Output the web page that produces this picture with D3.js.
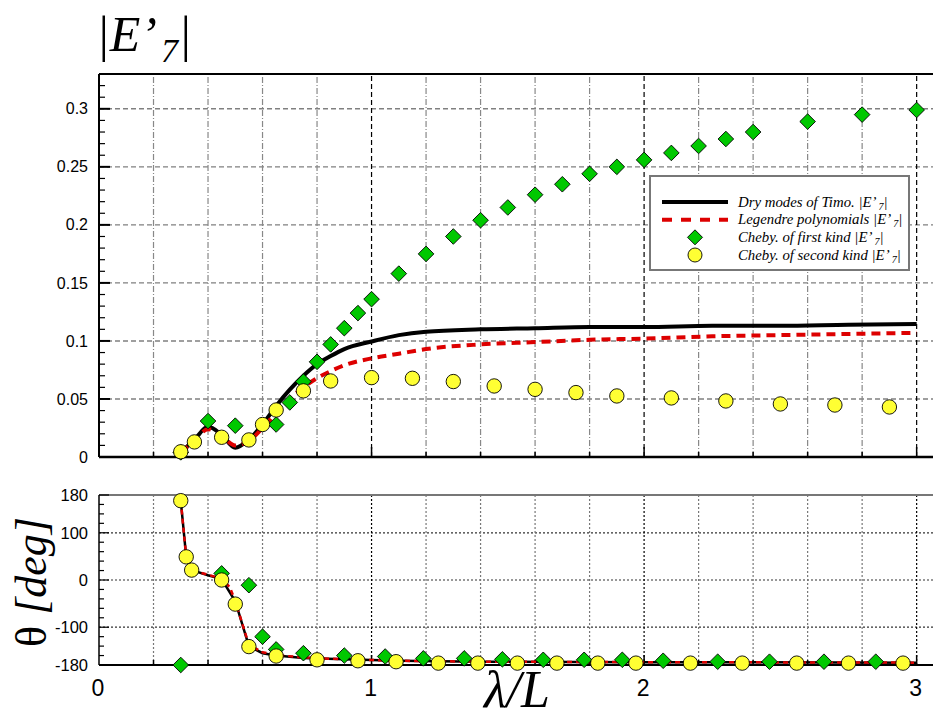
<!DOCTYPE html>
<html>
<head>
<meta charset="utf-8">
<script src="https://cdn.jsdelivr.net/npm/d3@7"></script>
<style>
  html, body { margin: 0; padding: 0; background: #fff; }
  svg { display: block; }
</style>
</head>
<body>
<svg id="chart" width="933" height="720"></svg>
<script>
// ---- amplitude |E'7| versus wavelength ratio ----
const timoLam = [0.30, 0.35, 0.40, 0.45, 0.50, 0.55, 0.60, 0.65, 0.70, 0.75, 0.80, 0.85, 0.90, 1.00, 1.10, 1.20, 1.40, 1.60, 1.80, 2.00, 2.25, 2.50, 2.75, 3.00];
const timoAmp = [0.004, 0.015, 0.026, 0.019, 0.008, 0.015, 0.028, 0.044, 0.058, 0.070, 0.080, 0.087, 0.093, 0.0995, 0.105, 0.108, 0.110, 0.111, 0.112, 0.112, 0.113, 0.113, 0.114, 0.1145];

const legLam = [0.30, 0.35, 0.40, 0.45, 0.50, 0.55, 0.60, 0.65, 0.70, 0.75, 0.80, 0.85, 0.90, 1.00, 1.10, 1.20, 1.40, 1.60, 1.80, 2.00, 2.25, 2.50, 2.75, 3.00];
const legAmp = [0.004, 0.014, 0.024, 0.018, 0.010, 0.014, 0.025, 0.038, 0.050, 0.060, 0.068, 0.074, 0.079, 0.085, 0.089, 0.093, 0.097, 0.099, 0.101, 0.102, 0.104, 0.105, 0.106, 0.107];

const cheb1Lam = [0.30, 0.40, 0.50, 0.65, 0.70, 0.75, 0.80, 0.85, 0.90, 0.95, 1.00, 1.10, 1.20, 1.30, 1.40, 1.50, 1.60, 1.70, 1.80, 1.90, 2.00, 2.10, 2.20, 2.30, 2.40, 2.60, 2.80, 3.00];
const cheb1Amp = [0.004, 0.031, 0.027, 0.028, 0.047, 0.065, 0.082, 0.097, 0.111, 0.124, 0.136, 0.158, 0.175, 0.190, 0.204, 0.215, 0.226, 0.235, 0.244, 0.250, 0.256, 0.262, 0.268, 0.274, 0.280, 0.289, 0.295, 0.299];

const cheb2Lam = [0.30, 0.35, 0.45, 0.55, 0.60, 0.65, 0.75, 0.85, 1.00, 1.15, 1.30, 1.45, 1.60, 1.75, 1.90, 2.10, 2.30, 2.50, 2.70, 2.90];
const cheb2Amp = [0.0045, 0.013, 0.017, 0.0147, 0.028, 0.0405, 0.057, 0.0655, 0.0684, 0.0678, 0.065, 0.0612, 0.0583, 0.0555, 0.0526, 0.0509, 0.0483, 0.0457, 0.0448, 0.0431];

// ---- phase theta [deg] ----
const timoPhLam = [0.30, 0.32, 0.34, 0.40, 0.45, 0.50, 0.55, 0.60, 0.65, 0.75, 0.90, 1.10, 1.40, 2.00, 3.00];
const timoPh = [168, 49, 21, 10, 2, -45, -140, -155, -160, -165, -168, -171, -173, -174, -175];

const legPhLam = [0.30, 0.32, 0.34, 0.40, 0.45, 0.48, 0.50, 0.55, 0.60, 0.65, 0.75, 0.90, 1.10, 1.40, 2.00, 3.00];
const legPh = [168, 49, 21, 11, 3, -15, -45, -137, -153, -159, -164, -168, -171, -173, -174, -175];

const cheb1PhLam = [0.30, 0.45, 0.55, 0.60, 0.65, 0.75, 0.90, 1.05, 1.19, 1.34, 1.48, 1.63, 1.78, 1.92, 2.07, 2.27, 2.46, 2.66, 2.85];
const cheb1Ph = [-180, 14, -11, -120, -147, -155, -160, -162, -166, -166, -168, -169, -169, -169, -171, -173, -173, -173, -173];

const cheb2PhLam = [0.30, 0.32, 0.34, 0.45, 0.50, 0.55, 0.65, 0.80, 0.95, 1.09, 1.245, 1.39, 1.535, 1.68, 1.83, 1.97, 2.17, 2.36, 2.56, 2.75, 2.95];
const cheb2Ph = [168, 49, 21, 0, -51, -141, -161, -169, -171, -173, -176, -176, -176, -176, -176, -176, -176, -176, -176, -176, -176];

// axis ticks
const xTicks = [0, 1, 2, 3];
const xGrid = [0.2, 0.4, 0.6, 0.8, 1.0, 1.2, 1.4, 1.6, 1.8, 2.0, 2.2, 2.4, 2.6, 2.8, 3.0];
const ampTicks = [0, 0.05, 0.1, 0.15, 0.2, 0.25, 0.3];
const ampTickLabels = ["0", "0.05", "0.1", "0.15", "0.2", "0.25", "0.3"];
const phTicks = [-180, -100, 0, 100, 180];
const phGrid = [-100, 0, 100];

const legendItems = [
  { label: "Dry modes of Timo. |E’", kind: "solid" },
  { label: "Legendre polynomials |E’", kind: "dashed" },
  { label: "Cheby. of first kind |E’", kind: "diamond" },
  { label: "Cheby. of second kind |E’", kind: "circle" }
];

// ---- drawing ----
const svg = d3.select("#chart");
const left = 99, right = 933;
const x = d3.scaleLinear().domain([0, 3.06]).range([left, right]);
const yA = d3.scaleLinear().domain([0, 0.33]).range([457, 74]);
const yP = d3.scaleLinear().domain([-180, 180]).range([665, 495]);

const sans = "'Liberation Sans', Arial, sans-serif";
const serif = "'Liberation Serif', 'Times New Roman', serif";
const green = "#00c800", yellow = "#ffff33", red = "#dd0000";

function zip(a, b) { return a.map((v, i) => [v, b[i]]); }
const isInt = d => Math.abs(d - Math.round(d)) < 1e-6;

// top panel grid
const gA = svg.append("g");
gA.selectAll(".hg").data(ampTicks.slice(1)).join("line")
  .attr("x1", left).attr("x2", right)
  .attr("y1", d => yA(d)).attr("y2", d => yA(d))
  .attr("stroke", "#808080").attr("stroke-width", 1.4).attr("stroke-dasharray", "5,3");
gA.selectAll(".vg").data(xGrid).join("line")
  .attr("x1", d => x(d)).attr("x2", d => x(d))
  .attr("y1", yA(0)).attr("y2", yA.range()[1])
  .attr("stroke", d => isInt(d) ? "#000" : "#888")
  .attr("stroke-width", 1.2)
  .attr("stroke-dasharray", d => isInt(d) ? "5,3" : "6,2,1,2");

// bottom panel grid
const gP = svg.append("g");
gP.selectAll(".hg").data(phGrid).join("line")
  .attr("x1", left).attr("x2", right)
  .attr("y1", d => yP(d)).attr("y2", d => yP(d))
  .attr("stroke", "#333").attr("stroke-width", 1.2).attr("stroke-dasharray", "2,2");
gP.selectAll(".vg").data(xGrid).join("line")
  .attr("x1", d => x(d)).attr("x2", d => x(d))
  .attr("y1", yP(-180)).attr("y2", yP(180))
  .attr("stroke", d => isInt(d) ? "#000" : "#777")
  .attr("stroke-width", 1.2).attr("stroke-dasharray", "2,2");

// frames
svg.append("line").attr("x1", left).attr("x2", right).attr("y1", yA(0.33)).attr("y2", yA(0.33)).attr("stroke", "#000").attr("stroke-width", 2);
svg.append("line").attr("x1", left).attr("x2", right).attr("y1", yA(0)).attr("y2", yA(0)).attr("stroke", "#000").attr("stroke-width", 2.5);
svg.append("line").attr("x1", left).attr("x2", left).attr("y1", yA(0.33)).attr("y2", yA(0)).attr("stroke", "#000").attr("stroke-width", 2);
svg.append("line").attr("x1", left).attr("x2", right).attr("y1", yP(180)).attr("y2", yP(180)).attr("stroke", "#777").attr("stroke-width", 2);
svg.append("line").attr("x1", left).attr("x2", right).attr("y1", yP(-180)).attr("y2", yP(-180)).attr("stroke", "#000").attr("stroke-width", 2);
svg.append("line").attr("x1", left).attr("x2", left).attr("y1", yP(180)).attr("y2", yP(-180)).attr("stroke", "#000").attr("stroke-width", 1.5);

// left axis ticks (inward)
const ampMinor = d3.range(0, 0.331, 0.01);
const isAmpMajor = d => ampTicks.some(t => Math.abs(t - d) < 1e-6);
svg.append("g").selectAll("line").data(ampMinor).join("line")
  .attr("x1", left).attr("x2", d => isAmpMajor(d) ? left + 11 : left + 6)
  .attr("y1", d => yA(d)).attr("y2", d => yA(d))
  .attr("stroke", "#000").attr("stroke-width", d => isAmpMajor(d) ? 2 : 1.2);
const phMinor = d3.range(-180, 181, 20);
svg.append("g").selectAll("line").data(phMinor).join("line")
  .attr("x1", left).attr("x2", d => phTicks.includes(d) ? left + 10 : left + 5)
  .attr("y1", d => yP(d)).attr("y2", d => yP(d))
  .attr("stroke", "#000").attr("stroke-width", 1.2);

// bottom axis ticks
[yA(0), yP(-180)].forEach(y0 => {
  svg.append("g").selectAll("line").data(xGrid).join("line")
    .attr("x1", d => x(d)).attr("x2", d => x(d))
    .attr("y1", y0).attr("y2", d => isInt(d) ? y0 - 10 : y0 - 5)
    .attr("stroke", "#000").attr("stroke-width", 1.5);
});

// tick labels
svg.append("g").selectAll("text").data(ampTicks).join("text")
  .attr("x", 88).attr("y", d => yA(d)).attr("dy", "0.35em")
  .attr("text-anchor", "end").attr("font-family", sans).attr("font-size", 16)
  .text((d, i) => ampTickLabels[i]);
svg.append("g").selectAll("text").data(phTicks).join("text")
  .attr("x", 88).attr("y", d => yP(d)).attr("dy", "0.35em")
  .attr("text-anchor", "end").attr("font-family", sans).attr("font-size", 16.5)
  .text(d => d);
svg.append("g").selectAll("text").data(xTicks).join("text")
  .attr("x", d => x(d) - 1).attr("y", 696)
  .attr("text-anchor", "middle").attr("font-family", sans).attr("font-size", 23)
  .text(d => d);

// curves
const lineA = d3.line().x(d => x(d[0])).y(d => yA(d[1])).curve(d3.curveMonotoneX);
const lineP = d3.line().x(d => x(d[0])).y(d => yP(d[1]));

svg.append("path").attr("d", lineA(zip(timoLam, timoAmp)))
  .attr("fill", "none").attr("stroke", "#000").attr("stroke-width", 4);
svg.append("path").attr("d", lineA(zip(legLam, legAmp)))
  .attr("fill", "none").attr("stroke", red).attr("stroke-width", 4).attr("stroke-dasharray", "9,6");
svg.append("path").attr("d", lineP(zip(timoPhLam, timoPh)))
  .attr("fill", "none").attr("stroke", "#000").attr("stroke-width", 2.5);
svg.append("path").attr("d", lineP(zip(legPhLam, legPh)))
  .attr("fill", "none").attr("stroke", red).attr("stroke-width", 2.5).attr("stroke-dasharray", "5,4");

// markers
const diamond = s => `M0,${-s}L${s},0L0,${s}L${-s},0Z`;
function diamonds(pts, yS) {
  svg.append("g").selectAll("path").data(pts).join("path")
    .attr("transform", d => `translate(${x(d[0])},${yS(d[1])})`)
    .attr("d", diamond(7.8))
    .attr("fill", green).attr("stroke", "#000").attr("stroke-width", 0.9);
}
function circles(pts, yS) {
  svg.append("g").selectAll("circle").data(pts).join("circle")
    .attr("cx", d => x(d[0])).attr("cy", d => yS(d[1])).attr("r", 7.2)
    .attr("fill", yellow).attr("stroke", "#000").attr("stroke-width", 0.9);
}
diamonds(zip(cheb1Lam, cheb1Amp), yA);
circles(zip(cheb2Lam, cheb2Amp), yA);
diamonds(zip(cheb1PhLam, cheb1Ph), yP);
circles(zip(cheb2PhLam, cheb2Ph), yP);

// legend
const lg = svg.append("g");
lg.append("rect").attr("x", 650).attr("y", 176).attr("width", 259).attr("height", 94)
  .attr("fill", "#fff").attr("stroke", "#777").attr("stroke-width", 2);
const rowY = d3.scalePoint().domain(d3.range(legendItems.length)).range([202, 255]);
legendItems.forEach((it, i) => {
  const cy = rowY(i);
  if (it.kind === "solid") {
    lg.append("line").attr("x1", 662).attr("x2", 728).attr("y1", cy).attr("y2", cy)
      .attr("stroke", "#000").attr("stroke-width", 4);
  } else if (it.kind === "dashed") {
    lg.append("line").attr("x1", 662).attr("x2", 728).attr("y1", cy).attr("y2", cy)
      .attr("stroke", red).attr("stroke-width", 4).attr("stroke-dasharray", "10,9");
  } else if (it.kind === "diamond") {
    lg.append("path").attr("transform", `translate(695,${cy})`).attr("d", diamond(7.5))
      .attr("fill", green).attr("stroke", "#000").attr("stroke-width", 0.9);
  } else {
    lg.append("circle").attr("cx", 695).attr("cy", cy).attr("r", 7)
      .attr("fill", yellow).attr("stroke", "#000").attr("stroke-width", 0.9);
  }
  const t = lg.append("text").attr("x", 738).attr("y", cy + 4.5)
    .attr("font-family", serif).attr("font-style", "italic").attr("font-size", 14.8);
  t.append("tspan").text(it.label + " ");
  t.append("tspan").attr("font-size", 10).attr("dy", 3).text("7");
  t.append("tspan").attr("dy", -3).text("|");
});

// axis titles
const tA = svg.append("text").attr("x", 96).attr("y", 51)
  .attr("font-family", serif).attr("font-style", "italic").attr("font-size", 50);
tA.append("tspan").text("|E’");
tA.append("tspan").attr("font-size", 34).attr("dy", 11).attr("dx", 4).text("7");
tA.append("tspan").attr("dy", -11).text("|");

const tP = svg.append("text")
  .attr("transform", "translate(46,582) rotate(-90)")
  .attr("text-anchor", "middle").attr("font-family", serif).attr("font-size", 44);
tP.append("tspan").text("θ ");
tP.append("tspan").attr("font-style", "italic").text("[deg]");

const tX = svg.append("text").attr("x", 517).attr("y", 707)
  .attr("text-anchor", "middle").attr("font-family", serif).attr("font-style", "italic").attr("font-size", 52);
tX.text("λ/L");
</script>
</body>
</html>
